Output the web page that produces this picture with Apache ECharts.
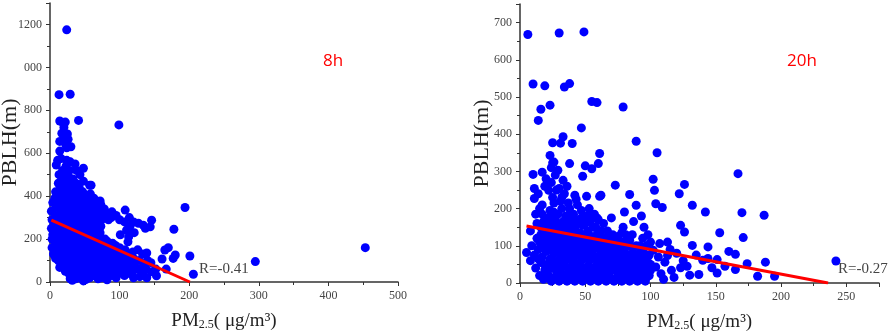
<!DOCTYPE html>
<html>
<head>
<meta charset="utf-8">
<script src="https://cdn.jsdelivr.net/npm/echarts@6/dist/echarts.min.js"></script>
<style>html,body{margin:0;padding:0;background:#fff}#chart{width:892px;height:336px}</style>
</head>
<body>
<div id="chart"></div>
<script>
// 8h: [PM2.5, PBLH]
let pts8 = [
  [24,1175],[13,873],[29,875],[14,750],[19,740],[22,745],[41,753],[99,732],[17,693],[20,720],[25,690],[14,655],[20,665],[26,665],[24,625],[30,630],[14,610],[23,637],[11,567],[16,575],[24,567],[29,560],[9,545],[36,550],[48,530],[57,451],[59,451],
  [3,290],[2,250],[4,220],[3,200],[2,330],[4,370],[3,160],[5,130],
  [8,420],[7,390],[9,350],[8,310],[7,270],[9,240],[8,200],[7,170],[9,140],[8,110],[10,300],
  [14,68],[13,500],[12,460],[14,430],[13,400],[12,370],[14,340],[13,310],[12,280],[14,250],[13,220],[12,190],[14,160],[13,130],[12,100],
  [18,520],[17,480],[19,450],[18,420],[17,390],[19,355],[18,325],[17,295],[19,265],[18,235],[17,205],[19,175],[18,145],[17,115],[19,90],
  [23,540],[22,505],[24,470],[23,440],[22,410],[24,380],[23,350],[22,320],[24,290],[23,260],[22,230],[24,200],[23,170],[22,140],[24,110],[23,80],[22,50],
  [28,520],[27,490],[29,460],[28,430],[27,400],[29,370],[28,340],[27,310],[29,280],[28,250],[27,220],[29,190],[28,160],[27,130],[29,100],[28,70],[27,40],[29,15],
  [33,480],[32,450],[34,420],[33,390],[32,360],[34,330],[33,300],[32,270],[34,240],[33,210],[32,180],[34,150],[33,120],[32,90],[34,60],[33,30],[32,8],
  [38,520],[37,460],[39,430],[38,400],[37,370],[39,340],[38,310],[37,280],[39,250],[38,220],[37,190],[39,160],[38,130],[37,100],[39,70],[38,40],[37,15],
  [43,500],[42,440],[44,410],[43,380],[42,350],[44,320],[43,290],[42,260],[44,230],[43,200],[42,170],[44,140],[43,110],[42,80],[44,50],[43,20],
  [48,470],[47,420],[49,390],[48,360],[47,330],[49,300],[48,270],[47,240],[49,210],[48,180],[47,150],[49,120],[48,90],[47,60],[49,30],[48,5],
  [53,400],[52,370],[54,340],[53,310],[52,280],[54,250],[53,220],[52,190],[54,160],[53,130],[52,100],[54,70],[53,40],[52,12],
  [58,410],[57,380],[59,350],[58,320],[57,290],[59,260],[58,230],[57,200],[59,170],[58,140],[57,110],[59,80],[58,50],[57,20],
  [63,390],[62,360],[64,330],[63,300],[62,270],[64,240],[63,210],[62,180],[64,150],[63,120],[62,90],[64,60],[63,30],
  [68,340],[67,310],[69,280],[68,250],[67,220],[69,190],[68,160],[67,130],[69,100],[68,70],[67,40],[69,15],
  [72,378],[73,360],[72,320],[74,290],[73,260],[72,230],[74,200],[73,170],[72,140],[74,110],[73,80],[72,50],[74,20],
  [78,340],[77,300],[79,200],[78,170],[77,140],[79,110],[78,80],[77,50],[79,25],
  [83,320],[84,290],[82,190],[84,160],[83,130],[82,100],[84,70],[83,40],[82,10],
  [89,327],[88,300],[90,180],[89,150],[88,120],[90,90],[89,60],[88,30],
  [95,310],[94,170],[96,140],[95,110],[94,80],[96,50],[95,20],
  [100,290],[101,220],[100,160],[99,130],[101,100],[100,70],[99,40],
  [108,335],[107,280],[110,242],[112,187],[108,150],[107,120],[109,90],[108,60],[107,30],
  [114,300],[115,260],[113,210],[114,130],[115,100],[113,70],[114,40],
  [120,280],[121,230],[119,140],[120,110],[121,80],[119,50],[120,20],
  [127,274],[126,150],[128,100],[127,60],[129,25],
  [134,265],[133,130],[135,80],[134,40],[139,135],[140,100],[138,60],[139,20],[146,288],[144,257],[146,48],[145,90],[153,29],[152,60],[137,250],
  [161,107],[165,149],[170,160],[177,110],[180,126],[178,246],[167,60],[201,121],[206,36],[194,347],[295,95],[453,160]
];

// 20h: [PM2.5, PBLH]
let pts20 = [
  [6,668],[30,672],[49,675],[10,535],[19,530],[34,527],[38,536],[16,467],[23,478],[14,437],[55,488],[59,485],[79,473],[47,417],[89,381],[105,350],
  [25,377],[33,393],[31,376],[40,375],[23,343],[25,323],[61,348],[38,321],[50,315],[60,321],[55,307],[48,287],[29,303],[17,298],[10,292],
  [73,263],[84,238],[62,236],[80,191],[89,209],[102,279],[103,249],[104,213],[167,294],
  [126,265],[122,240],[109,203],[132,209],[142,191],[170,189],[187,182],[123,155],[153,135],[171,122],[126,137],
  [100,110],[107,106],[113,110],[132,101],[144,97],[165,77],[188,56],[174,52],[242,59],[151,63],[144,66],[140,61],[147,41],[151,27],[165,36],
  [182,18],[195,18],[130,21],[137,23],[123,41],[116,34],[111,56],[104,43],[100,34],[106,70],[113,74],[102,88],
  [118,15],[110,10],[125,60],[120,80],[128,45],[135,75],[108,25],[115,90],[157,45],[160,85],[98,130],[95,150],
  [5,82],[8,60],[9,100],[8,140],
  [12,40],[13,120],[12,185],[11,227],[11,254],
  [15,20],[16,55],[14,90],[15,110],[16,150],[15,200],[14,240],
  [18,10],[19,35],[17,70],[18,100],[19,130],[18,165],[17,210],[19,260],
  [21,25],[22,50],[20,85],[21,115],[22,145],[21,175],[22,249],[20,280],
  [24,5],[25,40],[23,65],[24,95],[25,125],[24,160],[23,195],[25,230],[24,270],[24,310],
  [27,15],[28,50],[26,80],[27,110],[28,140],[27,175],[26,215],[28,250],[27,290],[26,325],
  [30,5],[31,30],[29,60],[30,90],[31,120],[30,150],[29,185],[31,220],[30,254],
  [33,15],[34,45],[32,75],[33,105],[34,135],[33,165],[32,200],[34,240],[33,276],
  [36,5],[37,30],[35,60],[36,90],[37,120],[36,150],[35,180],[37,215],[36,260],
  [39,15],[40,45],[38,75],[39,105],[40,135],[39,170],[38,200],[42,236],
  [42,5],[43,30],[41,60],[42,90],[43,120],[42,150],[41,185],[43,225],
  [45,15],[46,45],[44,75],[45,105],[46,135],[45,170],[44,210],
  [48,5],[49,30],[47,60],[48,90],[49,120],[48,155],[47,195],
  [51,15],[52,45],[50,75],[51,105],[52,140],[51,180],[51,233],
  [54,5],[55,30],[53,60],[54,90],[55,125],[54,165],[53,200],
  [57,15],[58,45],[56,75],[57,110],[58,150],[57,185],
  [60,5],[61,30],[59,60],[60,95],[61,135],[60,170],[61,233],
  [63,15],[64,45],[62,80],[63,120],[64,160],
  [66,5],[67,30],[65,65],[66,100],[67,140],
  [69,15],[70,50],[68,85],[69,120],[70,175],
  [72,5],[73,35],[71,70],[72,105],
  [75,20],[76,55],[74,90],[75,125],
  [78,5],[79,40],[77,75],[78,110],[79,150],
  [81,20],[82,55],[80,90],[81,130],
  [84,5],[85,40],[83,75],[84,115],
  [87,20],[88,55],[86,95],[87,165],
  [90,5],[91,40],[89,75],
  [93,20],[94,60],[92,100],[93,180],
  [96,5],[97,40],[95,80],
  [99,20],[98,55],
  [11,75],[13,160],[14,65],[16,130],[17,185],[19,50],[20,115],[20,155],[22,20],[22,100],[23,130],[23,175],[25,60],[25,85],[26,150],[26,190],
  [28,30],[28,120],[29,95],[29,160],[31,45],[31,75],[32,135],[32,230],[33,55],[34,90],[35,20],[35,115],[35,165],[37,70],[38,40],[38,140],
  [38,185],[40,60],[40,95],[41,20],[41,155],[43,75],[43,105],[44,45],[44,165],[46,25],[46,95],[47,130],[47,175],[49,70],[50,40],[50,110],
  [50,160],[52,20],[52,90],[53,125],[53,180],[55,70],[56,40],[56,110],[56,150],[58,25],[58,95],[59,130],[59,175],[61,75],[62,50],[62,105],
  [62,140],[64,25],[64,90],[65,120],[66,45],[67,80],[68,20],[68,110],[69,60],[70,90],[71,35],[71,130],[73,55],[73,90],[74,10],[74,115],
  [76,35],[76,75],[77,100],[78,135],[79,20],[80,60],[80,110],[82,35],[82,75],[83,100],[85,20],[85,60],[86,130],[87,80],[88,40],[89,100],
  [90,60],[91,20],[92,80],[93,45],[94,120],[95,25],[96,60],[97,100],[99,75],[100,50],[97,15]
];

// fitted lines
let fit8 = [[2,288],[201,0]];
let fit20 = [[5,153],[236,0]];
let r8 = 'R=-0.41';
let r20 = 'R=-0.27';

let serif = "'Liberation Serif', 'Times New Roman', serif";
let myChart = echarts.init(document.getElementById('chart'));

function xAx(idx, max, interval) {
    return {
        gridIndex: idx, type: 'value', min: 0, max: max, interval: interval,
        name: '{a|PM}{b|2.5}{a|( μg/m³)}',
        nameLocation: 'middle', nameGap: 29, nameMoveOverlap: false,
        nameTextStyle: {
            rich: {
                a: {fontFamily: serif, fontSize: 19, color: '#222'},
                b: {fontFamily: serif, fontSize: 12, color: '#222', padding: [8, 0, 0, 0]}
            }
        },
        axisLine: {lineStyle: {color: '#333', width: 1.5}},
        axisTick: {show: true, length: 4, lineStyle: {color: '#333'}},
        minorTick: {show: true, splitNumber: 2, length: 3, lineStyle: {color: '#333'}},
        splitLine: {show: false},
        axisLabel: {color: '#444', fontFamily: serif, fontSize: 12, margin: 8, showMaxLabel: max % interval === 0}
    };
}

function yAx(idx, max, interval, gap, fmt) {
    return {
        gridIndex: idx, type: 'value', min: 0, max: max, interval: interval,
        name: 'PBLH(m)', nameLocation: 'middle', nameGap: gap, nameMoveOverlap: false,
        nameTextStyle: {fontFamily: serif, fontSize: 22, color: '#222'},
        axisLine: {show: true, lineStyle: {color: '#333', width: 1.5}},
        axisTick: {show: true, length: 4, lineStyle: {color: '#333'}},
        minorTick: {show: true, splitNumber: 2, length: 3, lineStyle: {color: '#333'}},
        splitLine: {show: false},
        axisLabel: {color: '#444', fontFamily: serif, fontSize: 12, margin: 8, showMaxLabel: false, formatter: fmt}
    };
}

option = {
    animation: false,
    backgroundColor: '#fff',
    grid: [
        {left: 50, right: 494, top: 3, bottom: 54, outerBoundsMode: 'none'},
        {left: 520, right: 13, top: 4, bottom: 53, outerBoundsMode: 'none'}
    ],
    xAxis: [xAx(0, 500, 100), xAx(1, 275, 50)],
    yAxis: [
        yAx(0, 1300, 200, 29, function (v) { return v === 1000 ? '000' : v; }),
        yAx(1, 750, 100, 27)
    ],
    graphic: [
        {type: 'text', left: 323, top: 53, style: {text: '8h', fill: '#ff0000', font: '17px "Open Sans", sans-serif'}},
        {type: 'text', left: 787, top: 53, style: {text: '20h', fill: '#ff0000', font: '17px "Open Sans", sans-serif'}},
        {type: 'text', left: 199, top: 262, style: {text: r8, fill: '#444', font: '15px ' + serif}},
        {type: 'text', left: 838, top: 262, style: {text: r20, fill: '#444', font: '15px ' + serif}}
    ],
    series: [
        {type: 'scatter', xAxisIndex: 0, yAxisIndex: 0, data: pts8, symbolSize: 9, itemStyle: {color: '#0000ff', opacity: 1}},
        {type: 'line', xAxisIndex: 0, yAxisIndex: 0, data: fit8, showSymbol: false, lineStyle: {color: '#ff0000', width: 3}, z: 3},
        {type: 'scatter', xAxisIndex: 1, yAxisIndex: 1, data: pts20, symbolSize: 9, itemStyle: {color: '#0000ff', opacity: 1}},
        {type: 'line', xAxisIndex: 1, yAxisIndex: 1, data: fit20, showSymbol: false, lineStyle: {color: '#ff0000', width: 3}, z: 3}
    ]
};

myChart.setOption(option);
</script>
</body>
</html>
